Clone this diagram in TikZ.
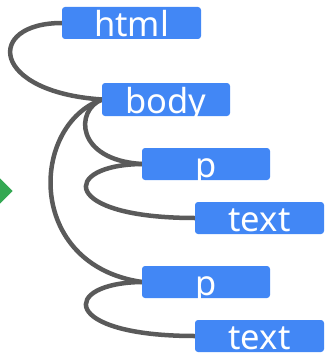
\documentclass[tikz,border=0pt]{standalone}
\usepackage{fontspec}
\setmainfont{Noto Sans}
\definecolor{tagblue}{HTML}{4287F5}
\definecolor{linkgray}{HTML}{5A5A5A}
\definecolor{markgreen}{HTML}{34A853}
\usetikzlibrary{calc}
\tikzset{
  tagbox/.style={fill=tagblue, rounded corners=3pt, inner sep=0pt},
  tagtext/.style={text=white, font=\fontsize{34.5}{34.5}\selectfont, anchor=base, inner sep=0pt},
  link/.style={draw=linkgray, line width=4.5pt}
}
% box with its label set on a baseline 3pt above the lower edge, clipped to the box
\newcommand\tagnode[6]{%
  \node[tagbox, minimum width=#4pt, minimum height=#5pt] (#1) at (#2,#3) {};
  \begin{scope}
    \clip (#1.south west) rectangle (#1.north east);
    \node[tagtext] (#1-label) at ($(#1.south)+(0,-3)$) {#6};
  \end{scope}}
\begin{document}
\begin{tikzpicture}[x=1pt, y=-1pt]
  \useasboundingbox (0,0) rectangle (324,353);

  % left ends of the boxes, used by the connectors
  \coordinate (htmlW) at (62,23);
  \coordinate (bodyW) at (102,99.5);
  \coordinate (p1W) at (142,164);
  \coordinate (t1W) at (195,218);
  \coordinate (p2W) at (142,282);
  \coordinate (t2W) at (195,336);

  % connectors
  \draw[link] (htmlW) .. controls (-15,23) and (-10,92) .. (bodyW);
  \draw[link] (bodyW) .. controls (75,110) and (75,160) .. (p1W);
  \draw[link] (bodyW) .. controls (30,125) and (25,265) .. (p2W);
  \draw[link] (p1W) .. controls (60,165) and (60,218) .. (t1W);
  \draw[link] (p2W) .. controls (60,283) and (60,336) .. (t2W);

  % boxes
  \tagnode{html}{131.5}{23}{139}{32}{html}
  \tagnode{body}{166}{99.5}{128}{33}{body}
  \tagnode{p1}{206}{164}{128}{32}{p}
  \tagnode{t1}{259.5}{218}{129}{32}{text}
  \tagnode{p2}{206}{282}{128}{32}{p}
  \tagnode{t2}{259.5}{336}{129}{32}{text}

  % green marker at the left edge
  \fill[markgreen] (12.7,191) -- (0,178.3) -- (-12.7,191) -- (0,203.7) -- cycle;
\end{tikzpicture}
\end{document}
